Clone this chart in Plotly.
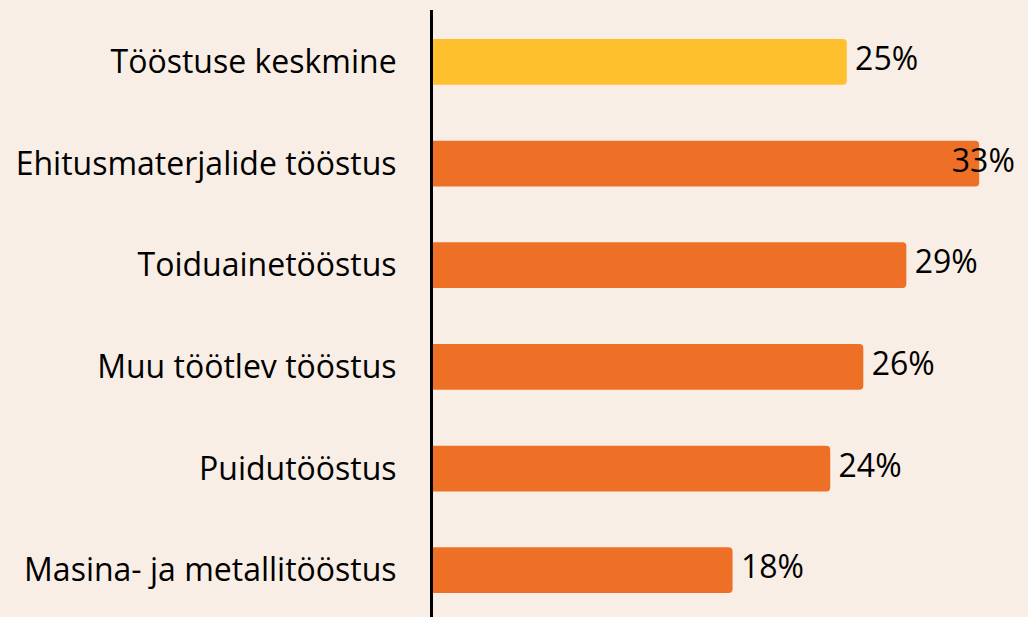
import plotly.graph_objects as go

categories = ["Tööstuse keskmine", "Ehitusmaterjalide tööstus", "Toiduainetööstus",
              "Muu töötlev tööstus", "Puidutööstus", "Masina- ja metallitööstus"]
values = [25.0, 33.0, 28.6, 26.0, 24.0, 18.1]
labels = ["25%", "33%", "29%", "26%", "24%", "18%"]
colors = ["#FEC12D", "#EE7027", "#EE7027", "#EE7027", "#EE7027", "#EE7027"]
label_positions = ["middle right", "middle center", "middle right",
                   "middle right", "middle right", "middle right"]

FONT = "Open Sans"

fig = go.Figure()
fig.add_trace(go.Bar(
    y=categories, x=values, orientation="h",
    marker=dict(color=colors, line=dict(width=0), cornerradius=4),
    width=0.45, hoverinfo="skip",
))
fig.add_trace(go.Scatter(
    y=categories, x=values, mode="text",
    text=labels, texttemplate=" %{text}", textposition=label_positions,
    cliponaxis=False, hoverinfo="skip",
    textfont=dict(family=FONT, size=32, color="#000000"),
))

fig.update_layout(
    width=1028, height=617,
    paper_bgcolor="#F9EEE5", plot_bgcolor="#F9EEE5",
    margin=dict(l=433, r=0, t=10, b=0),
    showlegend=False,
    xaxis=dict(range=[0, 35.95], showgrid=False, zeroline=False, showticklabels=False,
               showline=False),
    yaxis=dict(categoryorder="array", categoryarray=categories,
               range=[5.46, -0.51], showgrid=False, zeroline=False,
               showline=True, linecolor="#000000", linewidth=3,
               ticks="", ticklabelstandoff=27,
               tickfont=dict(family=FONT, size=32, color="#000000")),
)

fig.write_html("out.html", config={"displayModeBar": False},
               post_script="document.body.style.margin='0';document.body.style.padding='0';")
